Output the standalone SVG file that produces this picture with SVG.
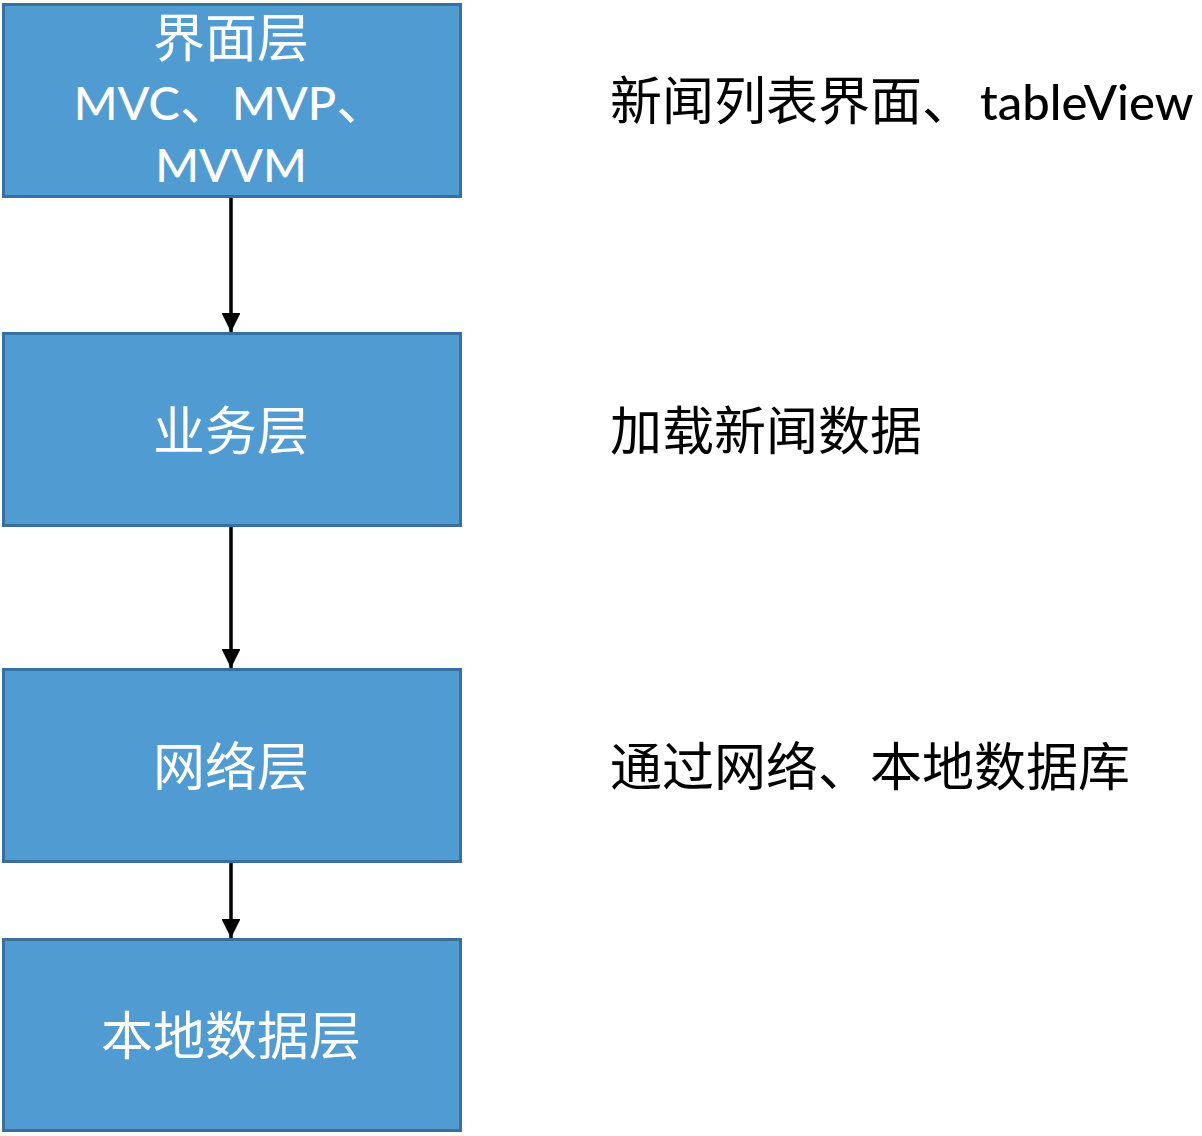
<svg xmlns="http://www.w3.org/2000/svg" width="1202" height="1136" viewBox="0 0 1202 1136">
<defs>
<style>
.box{fill:#519bd3;stroke:#3b6f9b;stroke-width:3}
.t{font-family:Lato,"Noto Sans CJK SC",sans-serif;font-size:52px;fill:#fff;text-anchor:middle}
.r{font-family:Lato,"Noto Sans CJK SC",sans-serif;font-size:52px;fill:#000}
.l{font-size:47px;font-weight:500}
.lr{font-size:49px;font-weight:500}
.c{stroke:#000;stroke-width:3.5;fill:none}
</style>
<marker id="ah" viewBox="0 0 10 10" refX="10" refY="5" markerWidth="5.4" markerHeight="5.4" markerUnits="strokeWidth" orient="auto">
<path d="M0,0 L10,5 L0,10 Z" fill="#000"/>
</marker>
</defs>
<rect width="1202" height="1136" fill="#fff"/>
<g id="connectors">
<line class="c" x1="231" y1="198" x2="231" y2="332" marker-end="url(#ah)"/>
<line class="c" x1="231" y1="527" x2="231" y2="668" marker-end="url(#ah)"/>
<line class="c" x1="231" y1="863" x2="231" y2="938" marker-end="url(#ah)"/>
</g>
<g id="ui">
<rect class="box" x="3.5" y="4.5" width="457" height="192"/>
<text class="t" x="231" y="57">界面层</text>
<text class="t" x="231" y="120"><tspan class="l">MVC</tspan>、<tspan class="l">MVP</tspan>、</text>
<text class="t l" x="231" y="182">MVVM</text>
</g>
<g id="biz">
<rect class="box" x="3.5" y="333.5" width="457" height="192"/>
<text class="t" x="231" y="450">业务层</text>
</g>
<g id="net">
<rect class="box" x="3.5" y="669.5" width="457" height="192"/>
<text class="t" x="231" y="786">网络层</text>
</g>
<g id="local">
<rect class="box" x="3.5" y="939.5" width="457" height="191"/>
<text class="t" x="231" y="1055">本地数据层</text>
</g>
<g id="notes">
<text class="r" x="610" y="120">新闻列表界面、<tspan class="lr" dx="6">tableView</tspan></text>
<text class="r" x="610" y="450">加载新闻数据</text>
<text class="r" x="610" y="786">通过网络、本地数据库</text>
</g>
</svg>
